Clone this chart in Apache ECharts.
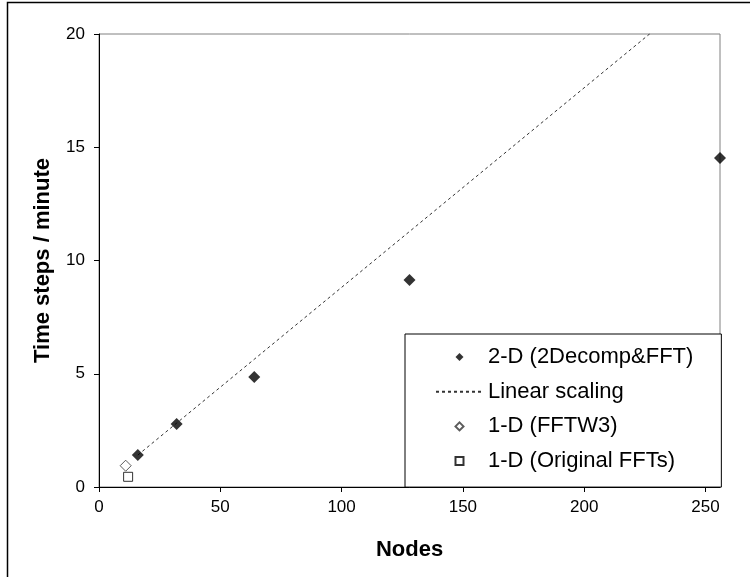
<!DOCTYPE html>
<html>
<head>
<meta charset="utf-8">
<script src="https://cdn.jsdelivr.net/npm/echarts@6/dist/echarts.min.js"></script>
<style>
  html, body { margin: 0; padding: 0; background: #fff; }
  #chart { width: 750px; height: 577px; }
</style>
</head>
<body>
<div id="chart"></div>
<script>
// values
const nodes2D = [16, 32, 64, 128, 256];
const steps2D = [1.41, 2.78, 4.86, 9.14, 14.53];
const linearScaling = [1.41, 2.82, 5.64, 11.28, 22.56];
const nodesFFTW3 = [11];
const stepsFFTW3 = [0.94];
const nodesOrig = [12];
const stepsOrig = [0.45];

const FONT = "'Liberation Sans', Arial, sans-serif";
const DIAMOND = "path://M0,-1L1,0L0,1L-1,0Z";
const SQUARE = "path://M0,0L1,0L1,1L0,1Z";

const pairs = (xs, ys) => xs.map((x, i) => [x, ys[i]]);

const chart = echarts.init(document.getElementById("chart"), null, { renderer: "canvas" });

const option = {
  animation: false,
  backgroundColor: "#fff",
  textStyle: { fontFamily: FONT, color: "#000" },
  graphic: [
    {
      type: "rect",
      shape: { x: 7.5, y: 2.5, width: 800, height: 700 },
      style: { fill: "none", stroke: "#000", lineWidth: 1.5 },
      silent: true,
    },
  ],
  grid: {
    left: 99,
    right: 30,
    top: 34,
    bottom: 90,
    show: true,
    borderColor: "#808080",
    borderWidth: 1,
  },
  legend: {
    orient: "vertical",
    left: 405,
    top: 334,
    padding: [12, 28, 15, 30],
    itemWidth: 47,
    itemHeight: 8,
    itemGap: 12.7,
    symbolKeepAspect: true,
    borderColor: "#000",
    borderWidth: 1,
    backgroundColor: "#fff",
    textStyle: { fontFamily: FONT, fontSize: 22, color: "#000" },
    data: [
      { name: "2-D (2Decomp&FFT)", icon: DIAMOND },
      { name: "Linear scaling", itemStyle: { opacity: 0 } },
      { name: "1-D (FFTW3)", icon: DIAMOND },
      { name: "1-D (Original FFTs)", icon: SQUARE },
    ],
  },
  xAxis: {
    type: "value",
    min: 0,
    max: 256,
    interval: 50,
    name: "Nodes",
    nameLocation: "middle",
    nameGap: 52,
    nameTextStyle: { fontFamily: FONT, fontSize: 22, fontWeight: "bold", color: "#000" },
    splitLine: { show: false },
    axisLine: { onZero: false, lineStyle: { color: "#000", width: 1 } },
    axisTick: { inside: false, length: 5, lineStyle: { color: "#000" } },
    axisLabel: {
      fontFamily: FONT,
      fontSize: 17,
      color: "#000",
      margin: 12,
      showMaxLabel: false,
      formatter: (v) => (v % 50 === 0 ? String(v) : ""),
    },
  },
  yAxis: {
    type: "value",
    min: 0,
    max: 20,
    interval: 5,
    name: "Time steps / minute",
    nameLocation: "middle",
    nameGap: 45,
    nameTextStyle: { fontFamily: FONT, fontSize: 22, fontWeight: "bold", color: "#000" },
    splitLine: { show: false },
    axisLine: { onZero: false, lineStyle: { color: "#000", width: 1 } },
    axisTick: { inside: false, length: 5, lineStyle: { color: "#000" } },
    axisLabel: { fontFamily: FONT, fontSize: 17, color: "#000", margin: 14 },
  },
  series: [
    {
      name: "2-D (2Decomp&FFT)",
      type: "scatter",
      symbol: "diamond",
      symbolSize: 12,
      itemStyle: { color: "#000" },
      z: 5,
      data: pairs(nodes2D, steps2D),
    },
    {
      name: "Linear scaling",
      type: "line",
      symbol: "none",
      clip: true,
      lineStyle: { color: "#333", width: 1, type: [3, 3] },
      itemStyle: { color: "#333" },
      z: 2,
      data: pairs(nodes2D, linearScaling),
    },
    {
      name: "1-D (FFTW3)",
      type: "scatter",
      symbol: "diamond",
      symbolSize: 11,
      itemStyle: { color: "#fff", borderColor: "#333", borderWidth: 1 },
      z: 5,
      data: pairs(nodesFFTW3, stepsFFTW3),
    },
    {
      name: "1-D (Original FFTs)",
      type: "scatter",
      symbol: "rect",
      symbolSize: 9,
      itemStyle: { color: "#fff", borderColor: "#000", borderWidth: 1 },
      z: 5,
      data: pairs(nodesOrig, stepsOrig),
    },
  ],
};

chart.setOption(option);
</script>
</body>
</html>
